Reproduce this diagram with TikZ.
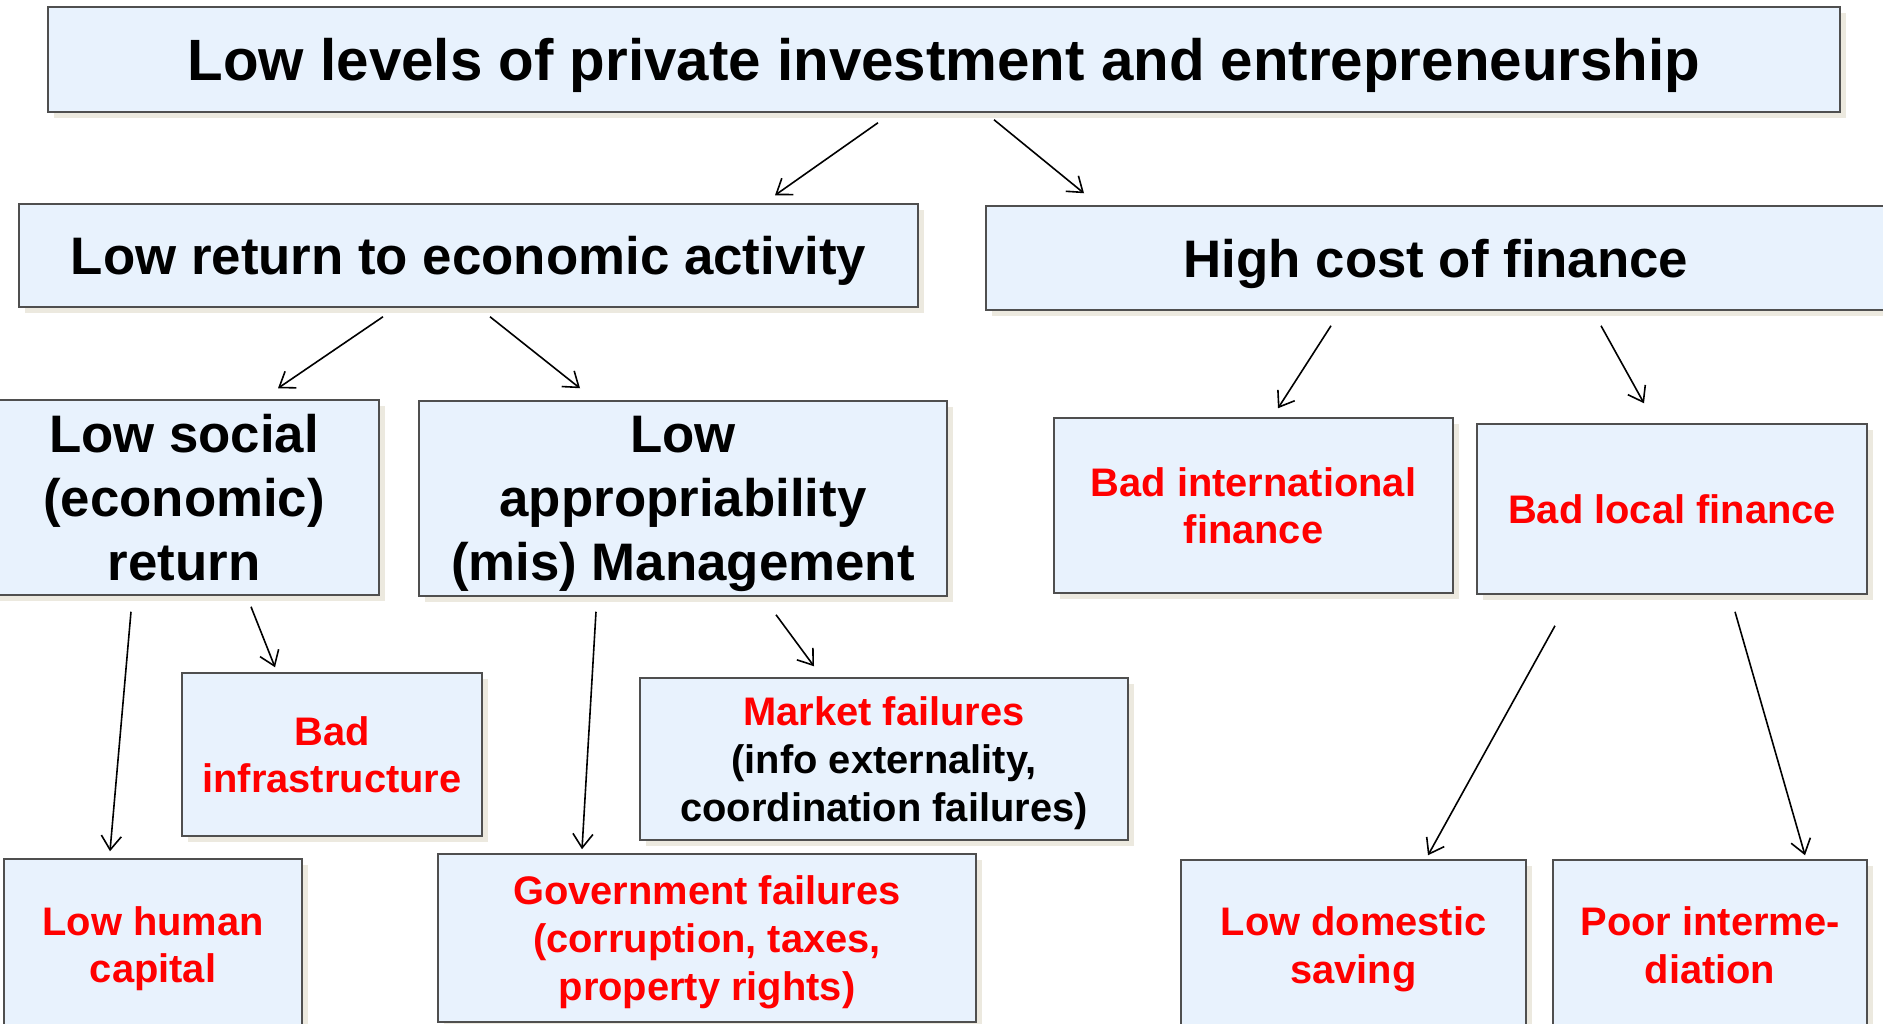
\documentclass[tikz,border=0pt]{standalone}
\usepackage{fontspec}
\setmainfont{Liberation Sans}
\usetikzlibrary{arrows.meta,shadows}
\definecolor{boxfill}{HTML}{E8F2FD}
\definecolor{boxline}{HTML}{4F4F4F}
\definecolor{boxshadow}{HTML}{ECE9DF}
\definecolor{causered}{HTML}{FF0000}
\tikzset{
  cause/.style={draw=boxline,line width=1.5bp,fill=boxfill,align=center,inner sep=0pt,
    text depth=0pt,
    drop shadow={shadow xshift=6bp,shadow yshift=-6bp,fill=boxshadow,opacity=1}},
  boxsize/.style 2 args={minimum width=#1bp,minimum height=#2bp},
  headline/.style={font=\fontsize{58.5}{70}\selectfont\bfseries},
  big/.style={font=\fontsize{53}{64}\selectfont\bfseries},
  small/.style={font=\fontsize{40}{48}\selectfont\bfseries},
  fail/.style={small,text=causered},
  link/.style={-{Straight Barb[length=14bp,width=20bp]},line width=1.6bp}
}
\begin{document}
\begin{tikzpicture}[x=1bp,y=-1bp]
\useasboundingbox (0,0) rectangle (1883,1023);
% causes
\node[cause,headline,boxsize={1792}{105}] (top) at (944,59.5)
  {Low levels of private investment and entrepreneurship};
\node[cause,big,boxsize={899}{103}] (lowret) at (468.5,255.5)
  {Low return to economic activity};
\node[cause,big,boxsize={900}{104}] (highcost) at (1436,258)
  {High cost of finance};
\node[cause,big,boxsize={390}{195}] (social) at (184,497.5)
  {Low social\\(economic)\\return};
\node[cause,big,boxsize={528}{195}] (approp) at (683,498.5)
  {Low\\appropriability\\(mis) Management};
\node[cause,fail,boxsize={399}{175}] (badint) at (1253.5,505.5)
  {Bad international\\finance};
\node[cause,fail,boxsize={390}{170}] (badloc) at (1672,509)
  {Bad local finance};
\node[cause,fail,boxsize={300}{163}] (infra) at (332,754.5)
  {Bad\\infrastructure};
\node[cause,small,boxsize={488}{162}] (market) at (884,759)
  {\textcolor{causered}{Market failures}\\(info externality,\\coordination failures)};
\node[cause,fail,boxsize={298}{171}] (human) at (153,944.5)
  {Low human\\capital};
\node[cause,fail,boxsize={538}{168}] (gov) at (707,938)
  {Government failures\\(corruption, taxes,\\property rights)};
\node[cause,fail,boxsize={345}{170}] (saving) at (1353.5,945)
  {Low domestic\\saving};
\node[cause,fail,boxsize={314}{170}] (poor) at (1710,945)
  {Poor interme-\\diation};
% links
\draw[link] ([shift={(-66,10)}]top.south) -- ([shift={(306.5,-8)}]lowret.north);
\draw[link] ([shift={(50,7)}]top.south) -- ([shift={(-352,-12)}]highcost.north);
\draw[link] ([shift={(-85.5,9)}]lowret.south) -- ([shift={(94,-11)}]social.north);
\draw[link] ([shift={(21.5,9)}]lowret.south) -- ([shift={(-103,-12)}]approp.north);
\draw[link] ([shift={(-105,15)}]highcost.south) -- ([shift={(24.5,-9)}]badint.north);
\draw[link] ([shift={(165,15)}]highcost.south) -- ([shift={(-28,-20)}]badloc.north);
\draw[link] ([shift={(-53,16)}]social.south) -- ([shift={(-43,-7)}]human.north);
\draw[link] ([shift={(67,11)}]social.south) -- ([shift={(-57,-5)}]infra.north);
\draw[link] ([shift={(-87,15)}]approp.south) -- ([shift={(-125,-4)}]gov.north);
\draw[link] ([shift={(93,18)}]approp.south) -- ([shift={(-70,-11)}]market.north);
\draw[link] ([shift={(-117,31)}]badloc.south) -- ([shift={(74.5,-4)}]saving.north);
\draw[link] ([shift={(63,17)}]badloc.south) -- ([shift={(95,-4)}]poor.north);
\end{tikzpicture}
\end{document}
